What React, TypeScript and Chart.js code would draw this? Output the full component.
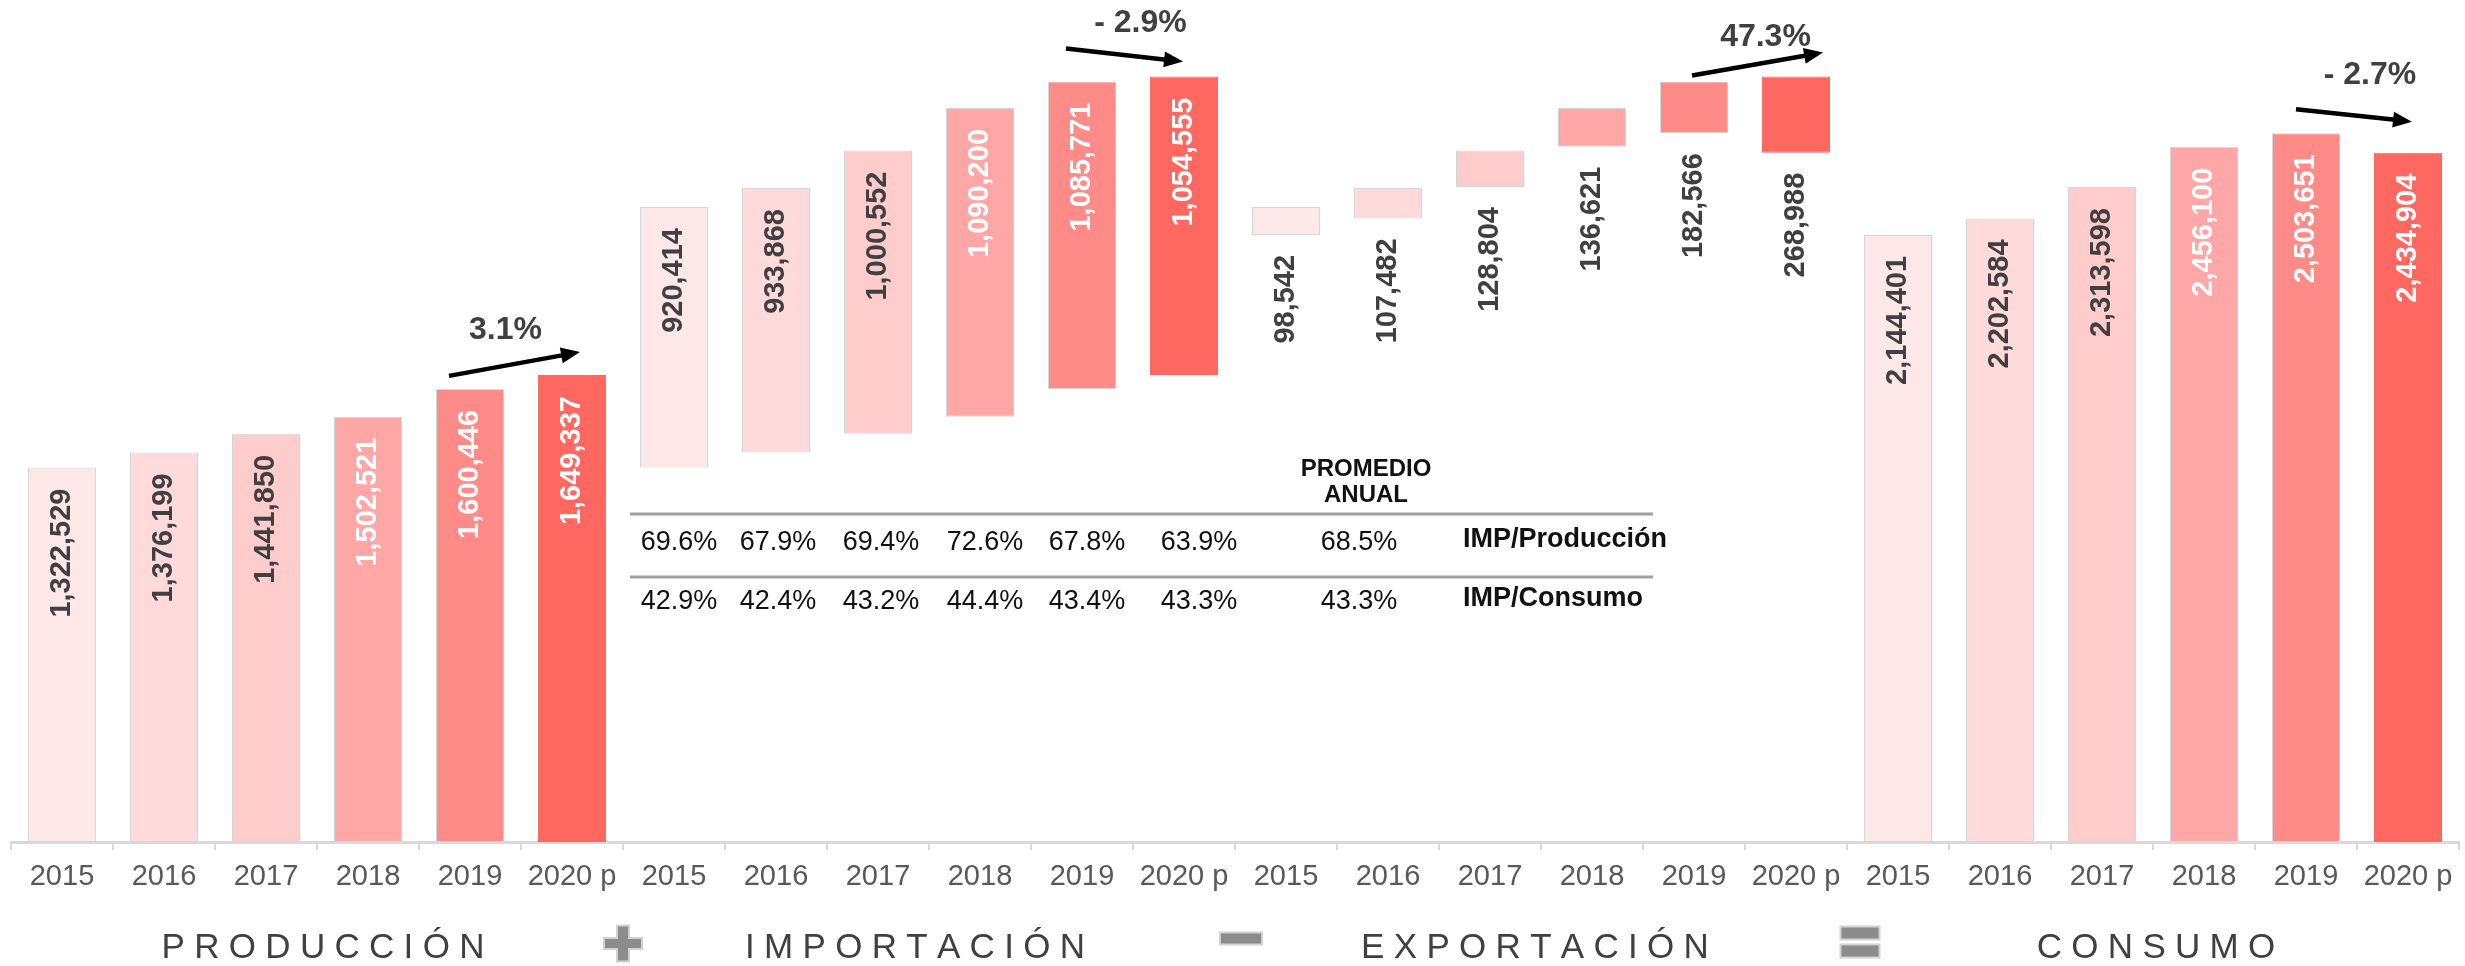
import React, { useEffect, useRef } from 'react';
import { Chart, registerables } from 'chart.js';

Chart.register(...registerables);

// ---------- data ----------
const years = ['2015', '2016', '2017', '2018', '2019', '2020 p'];
const produccion = [1322529, 1376199, 1441850, 1502521, 1600446, 1649337];
const importacion = [920414, 933868, 1000552, 1090200, 1085771, 1054555];
const exportacion = [98542, 107482, 128804, 136621, 182566, 268988];
const consumo = [2144401, 2202584, 2313598, 2456100, 2503651, 2434904];

const impProduccion = [69.6, 67.9, 69.4, 72.6, 67.8, 63.9];
const impConsumo = [42.9, 42.4, 43.2, 44.4, 43.4, 43.3];
const promedioImpProduccion = 68.5;
const promedioImpConsumo = 43.3;
const variaciones = ['3.1%', '- 2.9%', '47.3%', '- 2.7%'];
const groupTitles = ['PRODUCCIÓN', 'IMPORTACIÓN', 'EXPORTACIÓN', 'CONSUMO'];
const rowLabels = ['IMP/Producción', 'IMP/Consumo'];

const yearColors = ['#FEE7E7', '#FFDADA', '#FFCCCC', '#FFA7A6', '#FF8B88', '#FF6861'];

// ---------- layout helpers (styles / offsets, not data) ----------
const FONT = '"Liberation Sans", Arial, Helvetica, sans-serif';
const arrowSpec = [
  { start: [-21, -13], end: [8, -23], text: [-9, -34] },
  { start: [-16, -33], end: [-1, -15], text: [16, -32] },
  { start: [-2, -6], end: [27, -24], text: [8, -27] },
  { start: [-10, -24], end: [4, -31], text: [16, -40] },
];
const titleShift = [6, -14, -6, 3];
const tableColShift = [5, 2, 3, 5, 5, 15];

const fmt = (v: number) => v.toLocaleString('en-US');

export default function App() {
  const ref = useRef<HTMLCanvasElement | null>(null);

  useEffect(() => {
    document.body.style.margin = '0';
    const canvas = ref.current;
    if (!canvas) return;

    const labels = [...years, ...years, ...years, ...years];
    const ranges: [number, number][] = [
      ...produccion.map((v) => [0, v] as [number, number]),
      ...importacion.map((v, i) => [produccion[i], produccion[i] + v] as [number, number]),
      ...exportacion.map(
        (v, i) => [produccion[i] + importacion[i] - v, produccion[i] + importacion[i]] as [number, number]
      ),
      ...consumo.map((v) => [0, v] as [number, number]),
    ];
    const groupValues = [produccion, importacion, exportacion, consumo];
    const colors = labels.map((_, i) => yearColors[i % 6]);
    const borders = labels.map((_, i) => (i % 6 === 5 ? yearColors[5] : '#d6d6d6'));

    const annotPlugin = {
      id: 'annot',
      afterDatasetsDraw(chart: any) {
        const ctx: CanvasRenderingContext2D = chart.ctx;
        const meta = chart.getDatasetMeta(0);
        const xs = chart.scales.x;
        // value labels
        ctx.save();
        ctx.font = `bold 29px ${FONT}`;
        ctx.textAlign = 'right';
        ctx.textBaseline = 'middle';
        meta.data.forEach((el: any, i: number) => {
          const g = Math.floor(i / 6);
          const k = i % 6;
          const top = Math.min(el.y, el.base);
          const bottom = Math.max(el.y, el.base);
          const ay = g === 2 ? bottom + 20 : top + 21;
          ctx.fillStyle = g === 2 || k < 3 ? '#404040' : '#ffffff';
          ctx.save();
          ctx.translate(el.x, ay);
          ctx.rotate(-Math.PI / 2);
          ctx.fillText(fmt(groupValues[g][k]), 0, 0);
          ctx.restore();
        });
        ctx.restore();

        // arrows + variation labels
        arrowSpec.forEach((s, g) => {
          const a = meta.data[g * 6 + 4];
          const b = meta.data[g * 6 + 5];
          const aTop = Math.min(a.y, a.base);
          const bTop = Math.min(b.y, b.base);
          const x1 = a.x + s.start[0], y1 = aTop + s.start[1];
          const x2 = b.x + s.end[0], y2 = bTop + s.end[1];
          const ang = Math.atan2(y2 - y1, x2 - x1);
          const hl = 19, hw = 8;
          const bx = x2 - hl * Math.cos(ang), by = y2 - hl * Math.sin(ang);
          ctx.save();
          ctx.strokeStyle = '#000';
          ctx.fillStyle = '#000';
          ctx.lineWidth = 4.5;
          ctx.beginPath();
          ctx.moveTo(x1, y1);
          ctx.lineTo(bx + 2 * Math.cos(ang), by + 2 * Math.sin(ang));
          ctx.stroke();
          ctx.beginPath();
          ctx.moveTo(x2, y2);
          ctx.lineTo(bx + hw * Math.sin(ang), by - hw * Math.cos(ang));
          ctx.lineTo(bx - hw * Math.sin(ang), by + hw * Math.cos(ang));
          ctx.closePath();
          ctx.fill();
          const mx = (x1 + x2) / 2 + s.text[0];
          const my = (y1 + y2) / 2 + s.text[1];
          ctx.font = `bold 32px ${FONT}`;
          ctx.fillStyle = '#404040';
          ctx.textAlign = 'center';
          ctx.textBaseline = 'middle';
          ctx.fillText(variaciones[g], mx, my);
          ctx.restore();
        });

        // table
        const step = xs.getPixelForValue(1) - xs.getPixelForValue(0);
        const leftEdge = xs.getPixelForValue(6) - step / 2;
        const rightEdge = xs.getPixelForValue(16) - step / 2;
        ctx.save();
        ctx.strokeStyle = '#a0a0a0';
        ctx.lineWidth = 3;
        [514, 577].forEach((ly) => {
          ctx.beginPath();
          ctx.moveTo(leftEdge + 7, ly);
          ctx.lineTo(rightEdge + 10, ly);
          ctx.stroke();
        });
        ctx.fillStyle = '#111';
        ctx.textAlign = 'center';
        ctx.textBaseline = 'middle';
        ctx.font = `27px ${FONT}`;
        impProduccion.forEach((v, i) => {
          ctx.fillText(v.toFixed(1) + '%', xs.getPixelForValue(6 + i) + tableColShift[i], 543);
        });
        impConsumo.forEach((v, i) => {
          ctx.fillText(v.toFixed(1) + '%', xs.getPixelForValue(6 + i) + tableColShift[i], 602);
        });
        const avgX = xs.getPixelForValue(13) - 29;
        ctx.fillText(promedioImpProduccion.toFixed(1) + '%', avgX, 543);
        ctx.fillText(promedioImpConsumo.toFixed(1) + '%', avgX, 602);
        ctx.font = `bold 24px ${FONT}`;
        ctx.fillText('PROMEDIO', avgX + 7, 469);
        ctx.fillText('ANUAL', avgX + 7, 495);
        ctx.font = `bold 27px ${FONT}`;
        ctx.textAlign = 'left';
        const lblX = xs.getPixelForValue(14) - 27;
        ctx.fillText(rowLabels[0], lblX, 540);
        ctx.fillText(rowLabels[1], lblX, 599);
        ctx.restore();

        // bottom titles
        ctx.save();
        ctx.font = `35px ${FONT}`;
        ctx.fillStyle = '#404040';
        ctx.textBaseline = 'alphabetic';
        const spacing = 9.3;
        groupTitles.forEach((t, g) => {
          const cx = xs.getPixelForValue(g * 6) - step / 2 + 3 * step + titleShift[g];
          const chars = Array.from(t);
          const widths = chars.map((c) => ctx.measureText(c).width);
          const total = widths.reduce((s, w) => s + w, 0) + spacing * (chars.length - 1);
          let x = cx - total / 2;
          chars.forEach((c, j) => {
            ctx.fillText(c, x, 958);
            x += widths[j] + spacing;
          });
        });
        ctx.restore();

        // operator symbols
        const boundary = (n: number) => xs.getPixelForValue(n) - step / 2;
        const box = (cx: number, cy: number, w: number, h: number, o: number) => {
          ctx.fillRect(cx - w / 2 - o, cy - h / 2 - o, w + 2 * o, h + 2 * o);
        };
        ctx.save();
        const px = boundary(6), py = 943.5;
        const mx = boundary(12) + 6, my = 938.5;
        const ex = boundary(18) + 13;
        ctx.fillStyle = '#d2d2d2';
        box(px, py, 36, 9, 2);
        box(px, py, 10, 34, 2);
        box(mx, my, 40, 10, 2);
        box(ex, 933, 37, 11, 2);
        box(ex, 951, 37, 11, 2);
        ctx.fillStyle = '#8c8c8c';
        box(px, py, 36, 9, 0);
        box(px, py, 10, 34, 0);
        box(mx, my, 40, 10, 0);
        box(ex, 933, 37, 11, 0);
        box(ex, 951, 37, 11, 0);
        ctx.restore();
      },
    };

    const chart = new Chart(canvas, {
      type: 'bar',
      data: {
        labels,
        datasets: [
          {
            data: ranges as any,
            backgroundColor: colors,
            borderColor: borders,
            borderWidth: 1,
            borderSkipped: false,
            categoryPercentage: 1,
            barPercentage: 0.667,
          },
        ],
      },
      options: {
        responsive: false,
        animation: false,
        devicePixelRatio: 1,
        layout: { padding: { left: 11, right: 6, top: 21, bottom: 0 } },
        plugins: { legend: { display: false }, tooltip: { enabled: false }, title: { display: false } },
        scales: {
          x: {
            offset: true,
            grid: {
              display: true,
              offset: true,
              drawOnChartArea: false,
              drawTicks: true,
              tickLength: 8,
              color: '#d9d9d9',
              lineWidth: 2,
            },
            border: { display: true, color: '#d9d9d9', width: 3 },
            ticks: {
              color: '#595959',
              font: { family: FONT, size: 29 },
              padding: 10,
              maxRotation: 0,
              autoSkip: false,
            },
            afterFit: (scale: any) => {
              scale.height = 124;
            },
          },
          y: {
            display: false,
            min: 0,
            max: 2900000,
          },
        },
      },
      plugins: [annotPlugin],
    });

    return () => chart.destroy();
  }, []);

  return (
    <div style={{ width: 2465, height: 966, background: '#fff' }}>
      <canvas ref={ref} width={2465} height={966} style={{ width: 2465, height: 966, display: 'block' }} />
    </div>
  );
}
